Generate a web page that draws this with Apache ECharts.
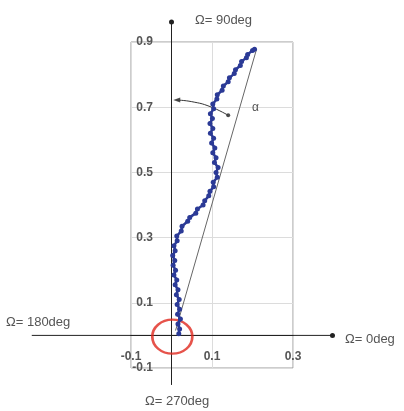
<!DOCTYPE html>
<html><head><meta charset="utf-8">
<script src="https://cdn.jsdelivr.net/npm/echarts@6/dist/echarts.min.js"></script>
<style>html,body{margin:0;padding:0;background:#fff}#c{width:404px;height:411px}</style>
</head><body><div id="c"></div>
<script>
// Trajectory (x, y)
const trajX = [0.018,0.020,0.016,0.022,0.015,0.020,0.014,0.019,0.012,0.016,0.009,0.013,0.006,0.010,0.004,0.008,0.003,0.009,0.006,0.014,0.013,0.024,0.026,0.040,0.045,0.060,0.064,0.078,0.082,0.092,0.095,0.104,0.103,0.113,0.110,0.115,0.106,0.110,0.102,0.107,0.099,0.104,0.096,0.102,0.095,0.101,0.096,0.104,0.102,0.112,0.113,0.125,0.128,0.140,0.143,0.155,0.158,0.170,0.173,0.185,0.188,0.200,0.205];
const trajY = [0.005,0.020,0.035,0.050,0.065,0.080,0.095,0.110,0.125,0.140,0.155,0.170,0.185,0.200,0.215,0.230,0.245,0.260,0.275,0.290,0.305,0.320,0.335,0.350,0.362,0.375,0.388,0.400,0.413,0.428,0.442,0.456,0.470,0.485,0.500,0.515,0.530,0.545,0.560,0.575,0.590,0.605,0.620,0.635,0.650,0.665,0.680,0.695,0.710,0.725,0.738,0.752,0.765,0.778,0.790,0.803,0.815,0.828,0.840,0.852,0.862,0.874,0.878];
// straight reference line
const refX = [0.010, 0.210];
const refY = [0.015, 0.878];
// alpha arc
const arcX = [0.140, 0.095, 0.050, 0.013];
const arcY = [0.675, 0.702, 0.717, 0.722];
// extended axes ends
const axisHX = [-0.345, 0.3975];
const axisVY = [-0.152, 0.961];
const xMin = -0.1, xMax = 0.3, yMin = -0.1, yMax = 0.9, step = 0.1;
const angleLabels = ['Ω= 90deg', 'Ω= 180deg', 'Ω= 0deg', 'Ω= 270deg'];

const zip = (a, b) => a.map((v, i) => [v, b[i]]);
const fmt = v => { const k = Math.round(v * 10); return (Math.abs(k) % 2 === 1) ? (k / 10).toFixed(1) : ''; };
const font = 'Liberation Sans, Arial, sans-serif';
const chart = echarts.init(document.getElementById('c'), null, {renderer: 'canvas'});
chart.setOption({
  animation: false,
  grid: {left: 131, right: 111, top: 42, bottom: 43, show: true, borderColor: '#9a9a9a', borderWidth: 1, backgroundColor: 'transparent'},
  xAxis: {type: 'value', min: xMin, max: xMax, interval: step,
    axisLine: {show: true, onZero: true, lineStyle: {color: '#222', width: 1}}, axisTick: {show: false},
    axisLabel: {formatter: fmt, margin: -17, hideOverlap: false, fontSize: 12, color: '#555', fontFamily: font, fontWeight: 'bold'},
    splitLine: {show: true, lineStyle: {color: ['#dcdcdc', 'rgba(0,0,0,0)'], width: 1}}},
  yAxis: {type: 'value', min: yMin, max: yMax, interval: step,
    axisLine: {show: true, onZero: true, lineStyle: {color: '#222', width: 1}}, axisTick: {show: false},
    axisLabel: {formatter: fmt, margin: -22, hideOverlap: false, fontSize: 12, color: '#555', fontFamily: font, fontWeight: 'bold'},
    splitLine: {show: true, lineStyle: {color: ['#dcdcdc', 'rgba(0,0,0,0)'], width: 1}}},
  series: [
    {type: 'line', data: zip(refX, refY), symbol: 'none', lineStyle: {color: '#666', width: 1}},
    {type: 'line', data: zip(arcX, arcY), smooth: true, symbol: 'none', lineStyle: {color: '#333', width: 1}},
    {type: 'scatter', data: [[arcX[0], arcY[0]]], symbol: 'circle', symbolSize: 4, itemStyle: {color: '#222'}},
    {type: 'scatter', data: [[arcX[arcX.length - 1], arcY[arcY.length - 1]]], symbol: 'triangle', symbolRotate: 90, symbolSize: [5, 7], itemStyle: {color: '#222'}},
    {type: 'line', data: zip(trajX, trajY), symbol: 'circle', symbolSize: 5, showAllSymbol: true,
      lineStyle: {color: '#2b3a96', width: 2.5}, itemStyle: {color: '#2b3a96'}},
    {type: 'scatter', data: [[0.002, -0.004]], symbol: 'circle', symbolSize: [40, 34], clip: false,
      itemStyle: {color: 'rgba(0,0,0,0)', borderColor: '#e0281e', borderWidth: 2.5}}
  ]
});
// extended axis lines, positioned through the chart's own scales
const pL = chart.convertToPixel({gridIndex: 0}, [axisHX[0], 0]);
const pR = chart.convertToPixel({gridIndex: 0}, [axisHX[1], 0]);
const pB = chart.convertToPixel({gridIndex: 0}, [0, axisVY[0]]);
const pT = chart.convertToPixel({gridIndex: 0}, [0, axisVY[1]]);
const lab = (t, x, y) => ({type: 'text', x: x, y: y, style: {text: t, font: '13px ' + font, fill: '#555', textVerticalAlign: 'middle'}});
chart.setOption({graphic: [
  {type: 'line', shape: {x1: pL[0], y1: pL[1], x2: pR[0], y2: pR[1]}, style: {stroke: '#222', lineWidth: 1}},
  {type: 'line', shape: {x1: pB[0], y1: pB[1], x2: pT[0], y2: pT[1]}, style: {stroke: '#222', lineWidth: 1}},
  {type: 'circle', shape: {cx: pR[0], cy: pR[1], r: 2.5}, style: {fill: '#222'}},
  {type: 'circle', shape: {cx: pT[0], cy: pT[1], r: 2.5}, style: {fill: '#222'}},
  lab(angleLabels[0], 195, 20),
  lab(angleLabels[1], 6, 322),
  lab(angleLabels[2], 345, 339),
  lab(angleLabels[3], 145, 401),
  {type: 'text', x: 252, y: 108, style: {text: 'α', font: '12px ' + font, fill: '#555', textVerticalAlign: 'middle'}}
]});
</script></body></html>
